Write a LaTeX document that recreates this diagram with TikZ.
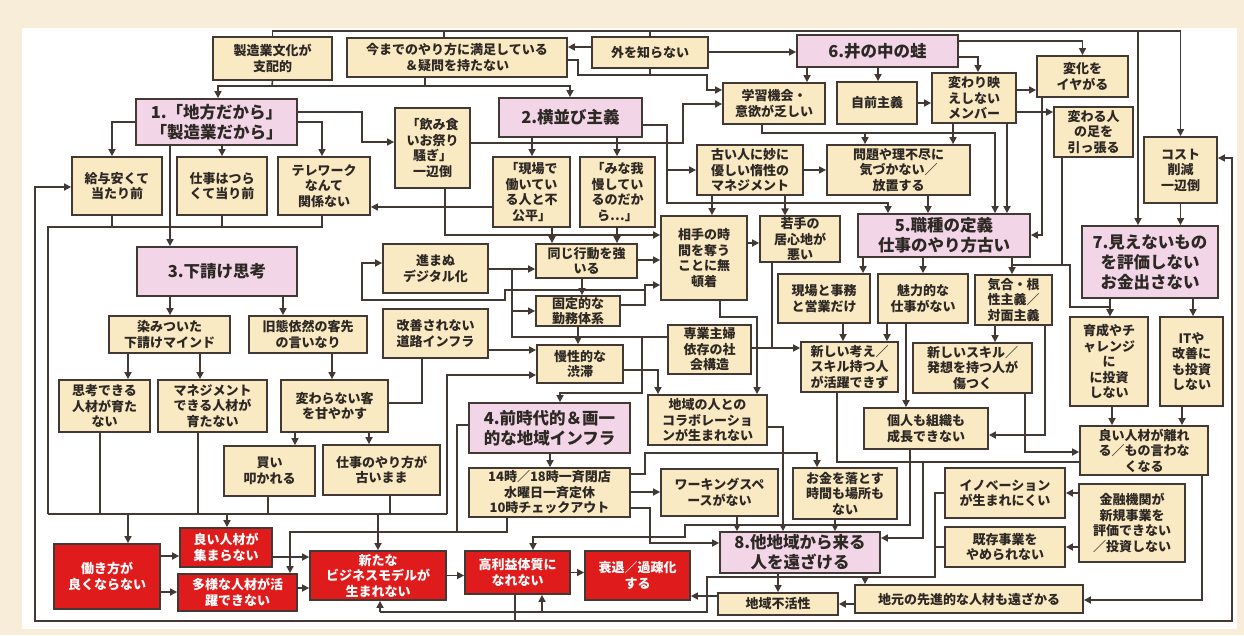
\documentclass[tikz,border=0pt]{standalone}
\usepackage{fontspec}
\setmainfont{Noto Sans CJK JP}
\usetikzlibrary{arrows.meta}
\definecolor{framec}{RGB}{247,237,217}
\definecolor{yel}{RGB}{250,234,196}
\definecolor{pnk}{RGB}{242,214,232}
\definecolor{rdc}{RGB}{224,27,27}
\definecolor{lc}{RGB}{66,57,52}
\definecolor{tc}{RGB}{45,40,36}
\tikzset{
 base/.style={draw=lc, line width=1.8pt, inner sep=1pt, align=center, text=tc},
 yb/.style={base, fill=yel, font=\bfseries\fontsize{13}{15.5}\selectfont},
 pk/.style={base, fill=pnk, font=\bfseries\fontsize{16.5}{20}\selectfont},
 rd/.style={base, fill=rdc, text=white, font=\bfseries\fontsize{13}{15.5}\selectfont},
 ln/.style={draw=lc, line width=1.6pt},
 arr/.style={ln, -{Triangle[length=7pt,width=7pt]}},
}
\newcommand\mkbox[7]{\node[#1, minimum width={#5pt-#3pt}, minimum height={#6pt-#4pt}] (#2) at ({(#3+#5)/2},{(#4+#6)/2}) {#7};}
\begin{document}
\begin{tikzpicture}[x=1pt,y=-1pt]
\fill[framec] (0,0) rectangle (1244,635);
\fill[white] (22,28) rectangle (1237,629);
\useasboundingbox (0,0) rectangle (1244,635);
% ---------- nodes
\mkbox{yb}{A1}{213}{37}{332}{80}{製造業文化が\\支配的}
\mkbox{yb}{A2}{347}{38}{567}{77}{今までのやり方に満足している\\＆疑問を持たない}
\mkbox{yb}{A3}{592}{37}{708}{68}{外を知らない}
\mkbox{pk}{P6}{797}{35}{958}{67}{6.井の中の蛙}
\mkbox{yb}{B1}{723}{83}{825}{124}{学習機会・\\意欲が乏しい}
\mkbox{yb}{B2}{837}{82}{917}{124}{自前主義}
\mkbox{yb}{B3}{932}{73}{1016}{123}{変わり映\\えしない\\メンバー}
\mkbox{yb}{B4}{1037}{56}{1128}{97}{変化を\\イヤがる}
\mkbox{yb}{B5}{1054}{107}{1133}{157}{変わる人\\の足を\\引っ張る}
\mkbox{yb}{B6}{1144}{137}{1217}{203}{コスト\\削減\\一辺倒}
\mkbox{pk}{P1}{136}{99}{297}{145}{1.「地方だから」\\「製造業だから」}
\mkbox{yb}{C1}{72}{157}{162}{215}{給与安くて\\当たり前}
\mkbox{yb}{C2}{177}{157}{267}{215}{仕事はつら\\くて当り前}
\mkbox{yb}{C3}{278}{157}{370}{215}{テレワーク\\なんて\\関係ない}
\mkbox{yb}{C4}{395}{108}{470}{188}{「飲み食\\いお祭り\\騒ぎ」\\一辺倒}
\mkbox{pk}{P2}{499}{98}{642}{137}{2.横並び主義}
\mkbox{yb}{C5}{493}{157}{570}{227}{「現場で\\働いてい\\る人と不\\公平」}
\mkbox{yb}{C6}{580}{157}{655}{227}{「みな我\\慢してい\\るのだか\\ら…」}
\mkbox{yb}{C7}{697}{145}{803}{195}{古い人に妙に\\優しい惰性の\\マネジメント}
\mkbox{yb}{C8}{827}{145}{970}{195}{問題や理不尽に\\気づかない／\\放置する}
\mkbox{pk}{P3}{137}{247}{297}{296}{3.下請け思考}
\mkbox{yb}{D1}{109}{316}{230}{353}{染みついた\\下請けマインド}
\mkbox{yb}{D2}{249}{316}{367}{353}{旧態依然の客先\\の言いなり}
\mkbox{yb}{D3}{59}{380}{150}{432}{思考できる\\人材が育た\\ない}
\mkbox{yb}{D4}{158}{380}{267}{432}{マネジメント\\できる人材が\\育たない}
\mkbox{yb}{D5}{281}{380}{388}{432}{変わらない客\\を甘やかす}
\mkbox{yb}{D6}{224}{446}{315}{496}{買い\\叩かれる}
\mkbox{yb}{D7}{323}{445}{440}{495}{仕事のやり方が\\古いまま}
\mkbox{yb}{E1}{383}{244}{488}{293}{進まぬ\\デジタル化}
\mkbox{yb}{E2}{383}{309}{488}{358}{改善されない\\道路インフラ}
\mkbox{yb}{E3}{536}{244}{637}{278}{同じ行動を強\\いる}
\mkbox{yb}{E4}{536}{296}{620}{326}{固定的な\\勤務体系}
\mkbox{yb}{E5}{537}{345}{623}{383}{慢性的な\\渋滞}
\mkbox{yb}{F1}{661}{216}{747}{300}{相手の時\\間を奪う\\ことに無\\頓着}
\mkbox{yb}{F2}{760}{217}{840}{261}{若手の\\居心地が\\悪い}
\mkbox{pk}{P5}{858}{214}{1030}{257}{5.職種の定義\\仕事のやり方古い}
\mkbox{yb}{F3}{778}{274}{870}{323}{現場と事務\\と営業だけ}
\mkbox{yb}{F4}{878}{274}{968}{323}{魅力的な\\仕事がない}
\mkbox{yb}{F5}{975}{275}{1052}{325}{気合・根\\性主義／\\対面主義}
\mkbox{yb}{F6}{668}{325}{751}{374}{専業主婦\\依存の社\\会構造}
\mkbox{yb}{F7}{801}{342}{898}{392}{新しい考え／\\スキル持つ人\\が活躍できず}
\mkbox{yb}{F8}{913}{343}{1032}{393}{新しいスキル／\\発想を持つ人が\\傷つく}
\mkbox{pk}{P7}{1082}{226}{1218}{298}{7.見えないもの\\を評価しない\\お金出さない}
\mkbox{yb}{G1}{1070}{317}{1148}{406}{育成やチ\\ャレンジ\\に\\に投資\\しない}
\mkbox{yb}{G2}{1160}{317}{1223}{406}{ITや\\改善に\\も投資\\しない}
\mkbox{pk}{P4}{469}{403}{630}{453}{4.前時代的＆画一\\的な地域インフラ}
\mkbox{yb}{H1}{469}{468}{630}{517}{14時／18時一斉閉店\\水曜日一斉定休\\10時チェックアウト}
\mkbox{yb}{H2}{648}{395}{767}{445}{地域の人との\\コラボレーショ\\ンが生まれない}
\mkbox{yb}{H3}{864}{408}{988}{449}{個人も組織も\\成長できない}
\mkbox{yb}{H4}{1080}{426}{1208}{475}{良い人材が離れ\\る／もの言わな\\くなる}
\mkbox{yb}{H5}{661}{469}{778}{516}{ワーキングスペ\\ースがない}
\mkbox{yb}{H6}{793}{468}{897}{519}{お金を落とす\\時間も場所も\\ない}
\mkbox{yb}{H7}{945}{468}{1065}{518}{イノベーション\\が生まれにくい}
\mkbox{yb}{H8}{945}{527}{1065}{567}{既存事業を\\やめられない}
\mkbox{yb}{H9}{1079}{484}{1185}{562}{金融機関が\\新規事業を\\評価できない\\／投資しない}
\mkbox{pk}{P8}{720}{532}{880}{573}{8.他地域から来る\\人を遠ざける}
\mkbox{yb}{H10}{718}{593}{838}{615}{地域不活性}
\mkbox{yb}{H11}{855}{585}{1083}{613}{地元の先進的な人材も遠ざかる}
\mkbox{rd}{R1}{54}{544}{160}{609}{働き方が\\良くならない}
\mkbox{rd}{R2}{180}{528}{272}{567}{良い人材が\\集まらない}
\mkbox{rd}{R3}{178}{574}{297}{611}{多様な人材が活\\躍できない}
\mkbox{rd}{R4}{310}{551}{446}{600}{新たな\\ビジネスモデルが\\生まれない}
\mkbox{rd}{R5}{465}{551}{570}{594}{高利益体質に\\なれない}
\mkbox{rd}{R6}{585}{551}{690}{600}{衰退／過疎化\\する}
% ---------- junction coordinates
\coordinate (jtop) at (1138,31);
\coordinate (jA) at (272,86);
\coordinate (jB) at (1012,265);
\coordinate (jL) at (48,227);
\coordinate (jM) at (48,514);
\coordinate (jD7) at (390,514);
\coordinate (jloop) at (515,621);
\coordinate (jI) at (935,547);
% ---------- top bus
\draw[arr] (A1.north) |- (B6.north |- 0,31) -- (B6.north);
\draw[ln] (A2.north -| 444,0) -- (444,31);
\draw[ln] (A3.north) -- (A3.north |- 0,31);
\draw[arr] (jtop) -- (P7.north -| jtop);
\draw[arr] (B6.south) -- (B6.south |- P7.north);
\draw[arr] (A3.west |- 0,47) -- (A2.east |- 0,47);
\draw[arr] (A3.east |- 0,52) -- (P6.west |- 0,52);
\draw[ln] (A1.south) -- (jA);
\draw[arr] (jA) -| (P1.north -| 218,0);
\draw[arr] (jA) -| (P2.north -| 570,0);
\draw[ln] (A2.south -| 425,0) -- (425,86);
\draw[arr] (A2.east |- 0,60) -- (578,60) |- (707,75) |- (B1.west |- 0,90);
\draw[ln] (A3.south) -- (A3.south |- 0,75);
\draw[arr] (C4.east |- 0,143) -- (683,143) |- (B1.west |- 0,104);
\draw[arr] (P2.east |- 0,125) -- (667,125) |- (C7.west);
\draw[arr] (667,170) |- (888,203) -- (P5.north -| 888,0);
\draw[arr] (P6.south -| 807,0) -- (B1.north -| 807,0);
\draw[arr] (P6.south -| 878,0) -- (B2.north -| 878,0);
\draw[arr] (P6.east |- 0,57) -| (B3.north -| 978,0);
\draw[arr] (P6.east |- 0,41) -| (B4.north);
\draw[arr] (B2.east) -- (B3.west |- B2.east);
\draw[arr] (B3.east |- 0,90) -- (B4.west |- 0,90);
\draw[arr] (B3.east |- 0,112) -- (B5.west |- 0,112);
\draw[arr] (B1.south -| 762,0) |- (865,133) -- (C8.north -| 865,0);
\draw[arr] (865,133) -| (P5.north -| 995,0);
\draw[arr] (B3.south -| 953,0) -- (C8.north -| 953,0);
\draw[arr] (B3.south -| 1007,0) -- (P5.north -| 1007,0);
\draw[arr] (B4.south -| 1042,0) |- (P5.east |- 0,235);
\draw[ln] (B5.south -| 1062,0) -- (1062,265);
\draw[arr] (P5.south -| jB) -- (F5.north -| jB);
\draw[arr] (jB) -- (1070,265) |- (1110,307) -- (G1.north -| 1110,0);
\draw[arr] (P7.south -| 1110,0) -- (G1.north -| 1110,0);
\draw[arr] (P7.south -| 1193,0) -- (G2.north -| 1193,0);
\draw[arr] (C8.south -| 928,0) -- (P5.north -| 928,0);
\draw[arr] (C7.east) -- (C8.west);
\draw[arr] (C7.south -| 712,0) -- (F1.north -| 712,0);
\draw[arr] (C7.south -| 785,0) -- (F2.north -| 785,0);
% ---------- middle right
\draw[arr] (F1.east |- 0,243) -- (F2.west |- 0,243);
\draw[arr] (F2.south -| 772,0) |- (F7.west |- 0,348);
\draw[ln] (F6.east |- 0,348) -- (772,348);
\draw[arr] (P5.south -| 863,0) -- (F3.north -| 863,0);
\draw[arr] (P5.south -| 923,0) -- (F4.north -| 923,0);
\draw[arr] (F3.south -| 843,0) -- (F7.north -| 843,0);
\draw[arr] (F4.south -| 887,0) -- (F7.north -| 887,0);
\draw[arr] (F4.south -| 906,0) -- (H3.north -| 906,0);
\draw[arr] (F5.south -| 995,0) -- (F8.north -| 995,0);
\draw[arr] (F5.south -| 1045,0) |- (H3.east |- 0,435);
\draw[arr] (F8.south -| 1025,0) |- (H4.west |- 0,452);
\draw[arr] (G1.south -| 1112,0) -- (H4.north -| 1112,0);
\draw[arr] (G2.south -| 1182,0) -- (H4.north -| 1182,0);
\draw[arr] (H4.south -| 1202,0) |- (H11.east |- 0,600);
\draw[arr] (H4.west |- 0,462) -| (923,500) |- (P8.east |- 0,538);
\draw[ln] (F7.south -| 837,0) |- (923,462);
\draw[arr] (H9.west |- H7.east) -- (H7.east);
\draw[arr] (H9.west |- H8.east) -- (H8.east);
\draw[ln] (H7.west) -- (935,493) |- (H8.west);
\draw[ln] (jI) -- (935,577) -- (707,577) -- (707,612) -- (380,612);
\draw[arr] (865,577) -- (H11.north -| 865,0);
\draw[arr] (542,612) -- (R5.south -| 542,0);
\draw[arr] (380,612) -- (R4.south -| 380,0);
\draw[arr] (P8.south -| 778,0) -- (H10.north -| 778,0);
\draw[arr] (H11.west |- 0,604) -- (H10.east |- 0,604);
\draw[arr] (H10.west |- 0,596) -- (R6.east |- 0,596);
\draw[arr] (H5.south -| 737,0) -- (P8.north -| 737,0);
\draw[arr] (H6.south -| 835,0) -- (P8.north -| 835,0);
\draw[arr] (H2.east |- 0,427) -| (P8.north -| 783,0);
\draw[arr] (H3.south -| 910,0) -- (910,525) -- (685,525) -- (685,537) -- (533,537) -- (R5.north -| 533,0);
\draw[arr] (H1.east |- 0,492) -- (H5.west |- 0,492);
\draw[arr] (H1.east |- 0,474) -- (645,474) |- (817,453) -- (H6.north -| 817,0);
\draw[arr] (H1.east |- 0,508) -- (650,508) |- (P8.west |- 0,543);
\draw[arr] (P4.south -| 550,0) -- (H1.north -| 550,0);
\draw[ln] (P4.west |- 0,425) -- (457,425) -- (457,532);
\draw[arr] (H1.south -| 507,0) |- (290,532) -- (R3.north -| 290,0);
% ---------- red row
\draw[arr] (R4.east) -- (R5.west |- R4.east);
\draw[arr] (R5.east) -- (R6.west |- R5.east);
\draw[arr] (R2.east |- 0,557) -- (R4.west |- 0,557);
\draw[arr] (R3.east |- 0,588) -- (R4.west |- 0,588);
\draw[arr] (R1.east |- 0,556) -- (R2.west |- 0,556);
\draw[arr] (R1.east |- 0,592) -- (R3.west |- 0,592);
% ---------- left part
\draw[ln] (jM) -- (jL) -- (322,227) -- (C3.south -| 322,0);
\draw[ln] (C1.south -| 112,0) -- (112,227);
\draw[ln] (C2.south) -- (222,227);
\draw[ln] (jM) -- (447,514);
\draw[ln] (D3.south -| 100,0) -- (100,514);
\draw[ln] (D4.south -| 198,0) -- (198,514);
\draw[ln] (D6.south -| 268,0) -- (268,514);
\draw[ln] (D7.south -| jD7) -- (jD7);
\draw[arr] (128,514) -- (R1.north -| 128,0);
\draw[arr] (227,514) -- (R2.north -| 227,0);
\draw[arr] (378,514) -- (R4.north -| 378,0);
\draw[arr] (447,514) |- (E5.west |- 0,375);
\draw[ln] (R5.south -| jloop) -- (jloop);
\draw[arr] (jloop) -- (35,621) |- (C1.west |- 0,187);
\draw[arr] (jloop) -- (1232,621) |- (B6.east |- 0,158);
\draw[arr] (P1.west |- 0,122) -| (C1.north -| 112,0);
\draw[arr] (P1.south -| 222,0) -- (C2.north -| 222,0);
\draw[arr] (P1.east |- 0,122) -| (C3.north -| 322,0);
\draw[arr] (P1.south -| 170,0) -- (P3.north -| 170,0);
\draw[arr] (P1.east |- 0,112) -- (362,112) |- (C4.west |- 0,142);
\draw[arr] (C5.west |- 0,207) -- (C3.east |- 0,207);
\draw[arr] (C4.south -| 445,0) |- (F1.west |- 0,235);
\draw[arr] (P2.south -| 532,0) -- (C5.north -| 532,0);
\draw[arr] (P2.south -| 617,0) -- (C6.north -| 617,0);
\draw[arr] (C5.south -| 552,0) -- (E3.north -| 552,0);
\draw[arr] (C6.south -| 617,0) -- (E3.north -| 617,0);
\draw[arr] (E3.east |- 0,260) -- (F1.west |- 0,260);
\draw[arr] (E3.south -| 582,0) -- (E4.north -| 582,0);
\draw[arr] (E4.south -| 578,0) -- (E5.north -| 578,0);
\draw[arr] (E1.east |- 0,269) -- (E3.west |- 0,269);
\draw[arr] (512,269) |- (E4.west |- 0,311);
\draw[arr] (E4.east |- 0,305) -- (645,305) |- (F1.west |- 0,285);
\draw[arr] (645,290) -- (505,290) -- (505,300) -- (362,300) |- (E1.west |- 0,263);
\draw[arr] (E2.east |- 0,350) -- (E5.west |- 0,350);
\draw[ln] (D5.east |- 0,403) -- (422,403) -- (E2.south -| 422,0);
\draw[ln] (512,311) -- (512,337) -- (642,337);
\draw[arr] (F6.west |- 0,337) -- (642,337) |- (560,393) -- (P4.north -| 560,0);
\draw[arr] (E5.east |- 0,370) -- (658,370) -- (H2.north -| 658,0);
\draw[arr] (F1.south -| 720,0) |- (757,317) -- (H2.north -| 757,0);
\draw[arr] (P3.south -| 170,0) -- (D1.north -| 170,0);
\draw[arr] (P3.south -| 283,0) -- (D2.north -| 283,0);
\draw[arr] (D1.south -| 128,0) -- (D3.north -| 128,0);
\draw[arr] (D1.south -| 200,0) -- (D4.north -| 200,0);
\draw[arr] (D2.south -| 332,0) -- (D5.north -| 332,0);
\draw[arr] (D5.south -| 295,0) -- (D6.north -| 295,0);
\draw[arr] (D5.south -| 369,0) -- (D7.north -| 369,0);
\end{tikzpicture}
\end{document}
